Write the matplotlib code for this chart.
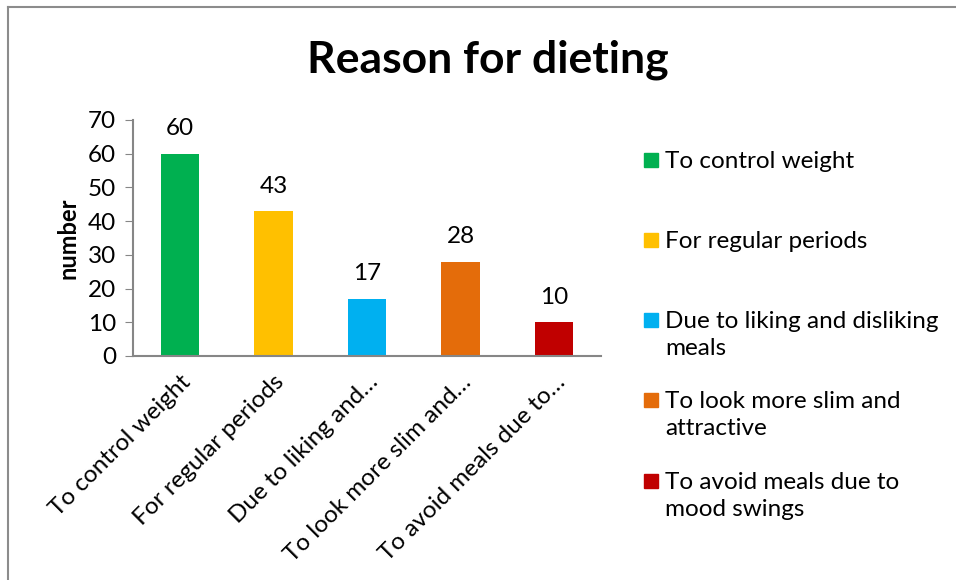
import matplotlib.pyplot as plt
from matplotlib.lines import Line2D
from matplotlib.patches import Rectangle

plt.rcParams['font.family'] = ['Lato', 'DejaVu Sans']

reasons = [
    "To control weight",
    "For regular periods",
    "Due to liking and disliking\nmeals",
    "To look more slim and\nattractive",
    "To avoid meals due to\nmood swings",
]
tick_labels = [
    "To control weight",
    "For regular periods",
    "Due to liking and\u2026",
    "To look more slim and\u2026",
    "To avoid meals due to\u2026",
]
counts = [60, 43, 17, 28, 10]
colors = ["#00b050", "#ffc000", "#00b0f0", "#e46c0a", "#c00000"]

W, H = 956, 580
fig = plt.figure(figsize=(W / 100, H / 100), dpi=100)

# axes box in pixel terms: x 133..601, y 120..356
ax = fig.add_axes([133 / W, 1 - 356 / H, (601 - 133) / W, (356 - 120) / H])

x = range(len(counts))
bars = ax.bar(x, counts, width=0.41, color=colors)
for b, v in zip(bars, counts):
    ax.text(b.get_x() + b.get_width() / 2, v + 4.3, str(v),
            ha='center', va='bottom', fontsize=17.5)

ax.set_xlim(-0.5, len(counts) - 0.5)
ax.set_ylim(0, 70)
ax.set_yticks(range(0, 71, 10))
ax.tick_params(axis='y', labelsize=17.5, length=6, color='#868686', pad=6)
ax.tick_params(axis='x', length=0, labelsize=17.5, pad=11)
ax.set_xticks(list(x))
ax.set_xticklabels(tick_labels, rotation=45, ha='right', rotation_mode='anchor')

for side in ['top', 'right']:
    ax.spines[side].set_visible(False)
for side in ['left', 'bottom']:
    ax.spines[side].set_color('#868686')
    ax.spines[side].set_linewidth(1.5)

ax.set_ylabel('number', fontsize=17, fontweight='bold', labelpad=6)

fig.text(488 / W, 1 - 60 / H, 'Reason for dieting', ha='center', va='center',
         fontsize=32, fontweight='bold')

# legend drawn by hand so wrapped entries keep their spacing
entry_y = [160, 240, 320, 400, 481]
for reason, c, yy in zip(reasons, colors, entry_y):
    fig.patches.append(Rectangle((644 / W, 1 - (yy + 7) / H), 14 / W, 14 / H,
                                 transform=fig.transFigure, color=c))
    fig.text(665 / W, 1 - (yy - 9) / H, reason,
             ha='left', va='top', fontsize=17.5, linespacing=1.38)

# chart frame (top and left edges)
fig.add_artist(Line2D([8 / W, 8 / W], [0, 1 - 7 / H], color='#8c8c8c', lw=1.5,
                      transform=fig.transFigure))
fig.add_artist(Line2D([8 / W, 1], [1 - 7 / H, 1 - 7 / H], color='#8c8c8c', lw=1.5,
                      transform=fig.transFigure))

fig.savefig('out.png', dpi=100)
